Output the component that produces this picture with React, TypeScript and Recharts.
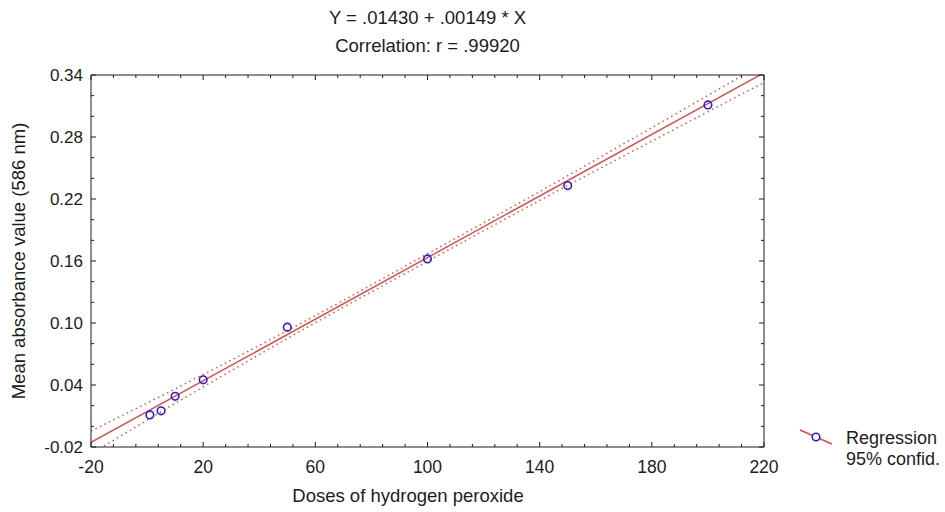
import React from 'react';
import { ComposedChart, Line, Scatter, XAxis, YAxis } from 'recharts';

// measured points
const doses = [1, 5, 10, 20, 50, 100, 150, 200];
const absorbance = [0.011, 0.015, 0.029, 0.045, 0.096, 0.162, 0.233, 0.311];

// fitted line Y = .01430 + .00149 * X, read at the plot edges
const fitX = [-20, 220];
const fitY = [-0.0155, 0.3421];

// 95% confidence band
const bandX = [-20, 20, 60, 100, 140, 180, 220];
const bandUpper = [-0.0045, 0.0501, 0.1072, 0.1670, 0.2272, 0.2890, 0.3515];
const bandLower = [-0.0265, 0.0381, 0.1002, 0.1596, 0.2186, 0.2760, 0.3327];

const xMajor = [-20, 20, 60, 100, 140, 180, 220];
const yMajor = [-0.02, 0.04, 0.1, 0.16, 0.22, 0.28, 0.34];

const xTicks = Array.from({ length: 31 }, (_, i) => -20 + i * 8);
const yTicks = Array.from({ length: 19 }, (_, i) => Math.round((-0.02 + i * 0.02) * 1000) / 1000);

const points = doses.map((x, i) => ({ x, y: absorbance[i] }));
const fitLine = fitX.map((x, i) => ({ x, y: fitY[i] }));
const upperLine = bandX.map((x, i) => ({ x, y: bandUpper[i] }));
const lowerLine = bandX.map((x, i) => ({ x, y: bandLower[i] }));

const RED = '#e8453c';
const BLUE = '#2a1fd6';
const INK = '#1c1c1c';
const FONT = '"Liberation Sans", Arial, sans-serif';

const isIn = (v: number, list: number[]) => list.some((m) => Math.abs(m - v) < 1e-6);

const BottomTick = ({ x, y, payload }: any) => {
  const major = isIn(payload.value, xMajor);
  return (
    <g>
      <line x1={x} x2={x} y1={y} y2={y - (major ? 5 : 3)} stroke={INK} />
      {major && (
        <text x={x} y={y + 26} textAnchor="middle" fontSize={17.5} fill={INK} fontFamily={FONT}>
          {payload.value}
        </text>
      )}
    </g>
  );
};

const TopTick = ({ x, y, payload }: any) => {
  const major = isIn(payload.value, xMajor);
  return <line x1={x} x2={x} y1={y} y2={y + (major ? 5 : 3)} stroke={INK} />;
};

const LeftTick = ({ x, y, payload }: any) => {
  const major = isIn(payload.value, yMajor);
  return (
    <g>
      <line x1={x} x2={x + (major ? 5 : 3)} y1={y} y2={y} stroke={INK} />
      {major && (
        <text x={x - 8} y={y + 6} textAnchor="end" fontSize={17} fill={INK} fontFamily={FONT}>
          {payload.value.toFixed(2)}
        </text>
      )}
    </g>
  );
};

const RightTick = ({ x, y, payload }: any) => {
  const major = isIn(payload.value, yMajor);
  return <line x1={x} x2={x - (major ? 5 : 3)} y1={y} y2={y} stroke={INK} />;
};

const Dot = ({ cx, cy }: any) => (
  <circle cx={cx} cy={cy} r={3.8} fill="none" stroke={BLUE} strokeWidth={1.6} />
);

const text = (style: React.CSSProperties): React.CSSProperties => ({
  position: 'absolute',
  fontFamily: FONT,
  color: INK,
  whiteSpace: 'nowrap',
  ...style,
});

export default function App() {
  return (
    <div style={{ position: 'fixed', left: 0, top: 0, width: 945, height: 512, background: '#fff' }}>
      <ComposedChart width={945} height={512} margin={{ top: 74, right: 180, bottom: 64, left: 90 }}>
        <XAxis
          xAxisId="x"
          dataKey="x"
          type="number"
          domain={[-20, 220]}
          allowDataOverflow
          ticks={xTicks}
          interval={0}
          height={1}
          tickSize={0}
          tickMargin={0}
          tickLine={false}
          tick={<BottomTick />}
          axisLine={{ stroke: INK }}
        />
        <XAxis
          xAxisId="xt"
          orientation="top"
          dataKey="x"
          type="number"
          domain={[-20, 220]}
          allowDataOverflow
          ticks={xTicks}
          interval={0}
          height={1}
          tickSize={0}
          tickMargin={0}
          tickLine={false}
          tick={<TopTick />}
          axisLine={{ stroke: INK }}
        />
        <YAxis
          yAxisId="y"
          type="number"
          domain={[-0.02, 0.34]}
          allowDataOverflow
          ticks={yTicks}
          interval={0}
          width={1}
          tickSize={0}
          tickMargin={0}
          tickLine={false}
          tick={<LeftTick />}
          axisLine={{ stroke: INK }}
        />
        <YAxis
          yAxisId="yr"
          orientation="right"
          type="number"
          domain={[-0.02, 0.34]}
          allowDataOverflow
          ticks={yTicks}
          interval={0}
          width={1}
          tickSize={0}
          tickMargin={0}
          tickLine={false}
          tick={<RightTick />}
          axisLine={{ stroke: INK }}
        />
        <Line
          xAxisId="x"
          yAxisId="y"
          data={upperLine}
          dataKey="y"
          type="monotone"
          stroke={RED}
          strokeWidth={1.4}
          strokeDasharray="1.5 3.5"
          dot={false}
          activeDot={false}
          isAnimationActive={false}
        />
        <Line
          xAxisId="x"
          yAxisId="y"
          data={lowerLine}
          dataKey="y"
          type="monotone"
          stroke={RED}
          strokeWidth={1.4}
          strokeDasharray="1.5 3.5"
          dot={false}
          activeDot={false}
          isAnimationActive={false}
        />
        <Line
          xAxisId="x"
          yAxisId="y"
          data={fitLine}
          dataKey="y"
          type="linear"
          stroke={RED}
          strokeWidth={1.4}
          dot={false}
          activeDot={false}
          isAnimationActive={false}
        />
        <Scatter
          xAxisId="x"
          yAxisId="y"
          data={points}
          dataKey="y"
          shape={<Dot />}
          isAnimationActive={false}
        />
      </ComposedChart>

      <div style={text({ left: 0, width: 855, top: 7, textAlign: 'center', fontSize: 18.5 })}>
        Y = .01430 + .00149 * X
      </div>
      <div style={text({ left: 0, width: 855, top: 35, textAlign: 'center', fontSize: 18.5 })}>
        Correlation: r = .99920
      </div>
      <div style={text({ left: 0, width: 816, top: 485, textAlign: 'center', fontSize: 18.5 })}>
        Doses of hydrogen peroxide
      </div>
      <div
        style={text({
          left: 19,
          top: 261,
          fontSize: 18.5,
          transform: 'translate(-50%, -50%) rotate(-90deg)',
        })}
      >
        Mean absorbance value (586 nm)
      </div>

      <svg style={{ position: 'absolute', left: 798, top: 428 }} width={36} height={18}>
        <line x1={2} y1={2} x2={34} y2={16} stroke={RED} strokeWidth={1.4} />
        <circle cx={18} cy={9} r={3.8} fill="#fff" stroke={BLUE} strokeWidth={1.6} />
      </svg>
      <div style={text({ left: 846, top: 428, fontSize: 18, lineHeight: '21px' })}>
        Regression
        <br />
        95% confid.
      </div>
    </div>
  );
}
